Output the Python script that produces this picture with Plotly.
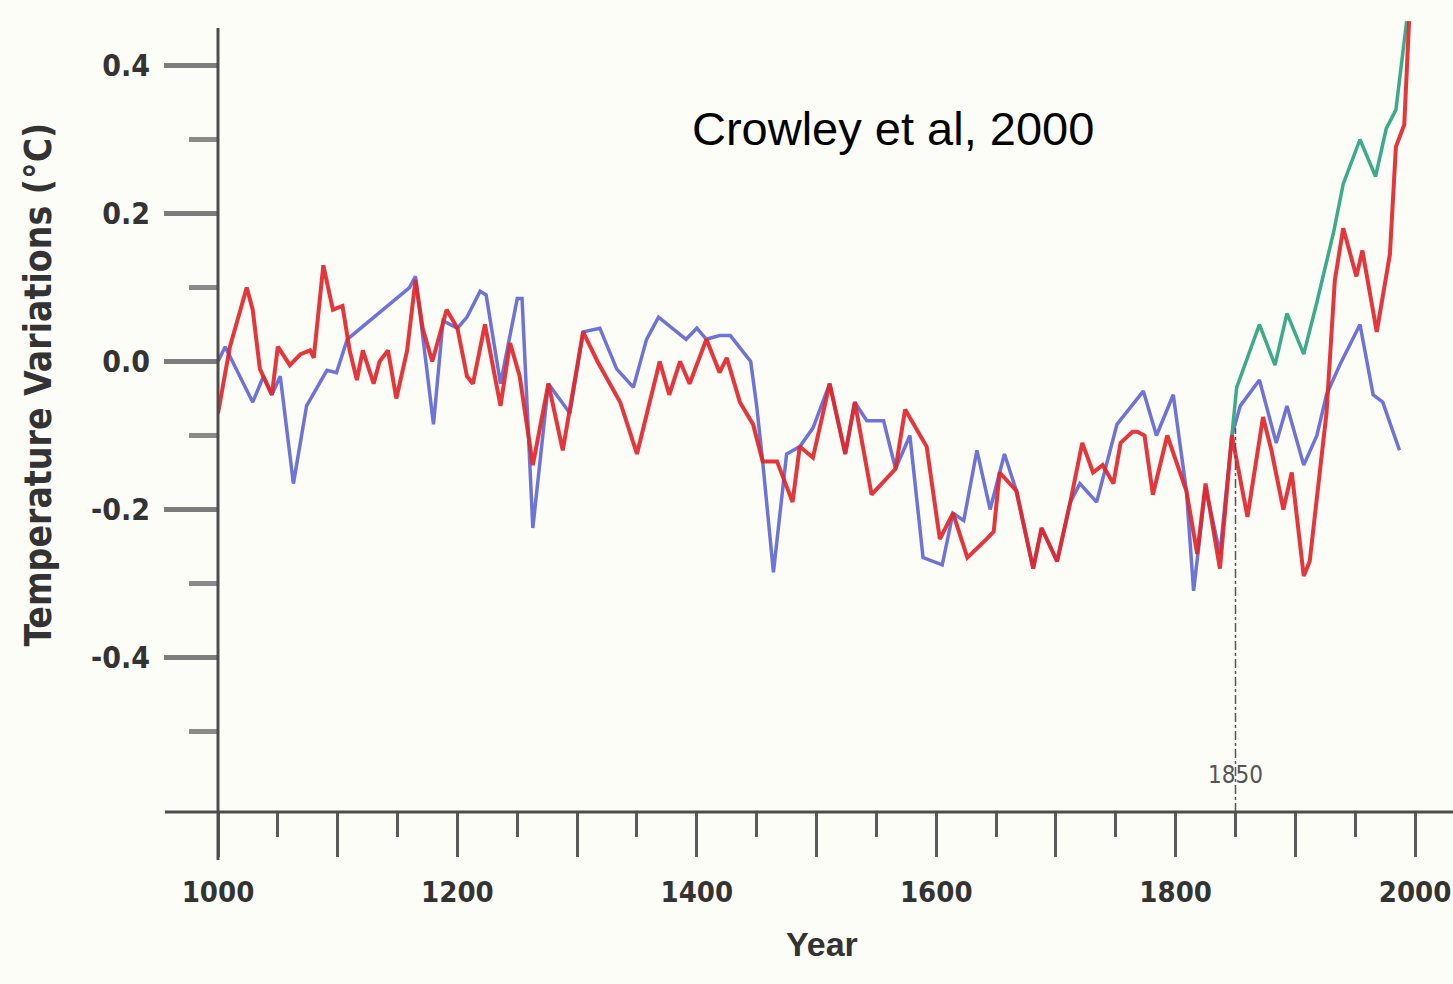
import plotly.graph_objects as go

# Reconstructed temperature variations, years 1000-2000 (degrees C)
red_years = [1000, 1010, 1024, 1029, 1035, 1045, 1050, 1060, 1069, 1077, 1080, 1088, 1096, 1104,
             1110, 1116, 1121, 1130, 1135, 1142, 1149, 1158, 1165, 1171, 1179, 1191, 1200, 1208,
             1213, 1223, 1236, 1244, 1252, 1263, 1276, 1288, 1305, 1317, 1336, 1350, 1369, 1377,
             1386, 1394, 1408, 1419, 1425, 1436, 1447, 1455, 1467, 1480, 1486, 1497, 1511, 1524,
             1532, 1546, 1566, 1574, 1592, 1603, 1614, 1626, 1642, 1648, 1653, 1667, 1681, 1688,
             1701, 1712, 1722, 1731, 1739, 1748, 1754, 1764, 1768, 1774, 1781, 1793, 1809, 1818,
             1825, 1837, 1847, 1853, 1860, 1873, 1880, 1890, 1897, 1907, 1912, 1926, 1933, 1940,
             1951, 1956, 1968, 1979, 1984, 1991, 1995]
red_vals = [-0.07, 0.02, 0.10, 0.07, -0.01, -0.045, 0.02, -0.005, 0.01, 0.015, 0.005, 0.13, 0.07, 0.075,
            0.015, -0.025, 0.015, -0.03, 0.0, 0.015, -0.05, 0.015, 0.11, 0.045, 0.0, 0.07, 0.045, -0.02,
            -0.03, 0.05, -0.06, 0.025, -0.02, -0.14, -0.03, -0.12, 0.04, 0.0, -0.055, -0.125, 0.0, -0.045,
            0.0, -0.03, 0.03, -0.015, 0.005, -0.055, -0.085, -0.135, -0.135, -0.19, -0.115, -0.13, -0.03, -0.125,
            -0.055, -0.18, -0.145, -0.065, -0.115, -0.24, -0.205, -0.265, -0.24, -0.23, -0.15, -0.175, -0.28, -0.225,
            -0.27, -0.19, -0.11, -0.15, -0.14, -0.165, -0.11, -0.095, -0.095, -0.10, -0.18, -0.10, -0.175, -0.26,
            -0.165, -0.28, -0.10, -0.15, -0.21, -0.075, -0.12, -0.20, -0.15, -0.29, -0.27, -0.07, 0.11, 0.18,
            0.115, 0.15, 0.04, 0.145, 0.29, 0.32, 0.46]

blue_years = [1000, 1006, 1029, 1038, 1045, 1052, 1063, 1074, 1091, 1099, 1108, 1160, 1165, 1180,
              1188, 1200, 1208, 1219, 1224, 1236, 1250, 1254, 1263, 1276, 1294, 1305, 1319, 1333,
              1347, 1358, 1368, 1391, 1400, 1408, 1419, 1428, 1445, 1450, 1455, 1464, 1475, 1486,
              1497, 1511, 1524, 1532, 1542, 1556, 1566, 1578, 1589, 1605, 1614, 1623, 1634, 1645,
              1653, 1657, 1667, 1681, 1688, 1701, 1712, 1720, 1734, 1739, 1751, 1773, 1784, 1798,
              1809, 1815, 1825, 1837, 1847, 1854, 1870, 1884, 1893, 1907, 1918, 1926, 1937, 1954,
              1965, 1973, 1987]
blue_vals = [0.0, 0.02, -0.055, -0.02, -0.045, -0.02, -0.165, -0.06, -0.012, -0.015, 0.03, 0.10, 0.115, -0.085,
             0.055, 0.045, 0.06, 0.095, 0.09, -0.03, 0.085, 0.085, -0.225, -0.03, -0.07, 0.04, 0.045, -0.01,
             -0.035, 0.03, 0.06, 0.03, 0.045, 0.03, 0.035, 0.035, 0.0, -0.06, -0.135, -0.285, -0.125, -0.115,
             -0.09, -0.03, -0.125, -0.055, -0.08, -0.08, -0.145, -0.10, -0.265, -0.275, -0.205, -0.215, -0.12, -0.20,
             -0.15, -0.125, -0.175, -0.28, -0.225, -0.27, -0.19, -0.165, -0.19, -0.16, -0.085, -0.04, -0.10, -0.045,
             -0.175, -0.31, -0.17, -0.26, -0.10, -0.06, -0.025, -0.11, -0.06, -0.14, -0.10, -0.045, -0.005, 0.05,
             -0.045, -0.055, -0.12]

green_years = [1847, 1851, 1870, 1883, 1893, 1907, 1918, 1932, 1940, 1954, 1967, 1976, 1984, 1993]
green_vals = [-0.10, -0.035, 0.05, -0.005, 0.065, 0.01, 0.08, 0.175, 0.24, 0.30, 0.25, 0.315, 0.34, 0.46]

y_major = [-0.4, -0.2, 0.0, 0.2, 0.4]
y_major_text = ["-0.4", "-0.2", "0.0", "0.2", "0.4"]
y_minor = [-0.5, -0.3, -0.1, 0.1, 0.3]
x_major = list(range(1000, 2001, 100))
x_major_text = [str(v) if v % 200 == 0 else "" for v in x_major]

X_MIN, X_MAX = 1000, 2031.7
Y_MIN, Y_MAX = -0.6088, 0.475

BG = "#fdfdf8"
NARROW = "DejaVu Sans Condensed, Liberation Sans Narrow, Arial Narrow, Liberation Sans, Arial"
TICK_FONT = dict(family=NARROW, size=30, color="#333333", weight="bold")

fig = go.Figure()
fig.add_trace(go.Scatter(x=blue_years, y=blue_vals, mode="lines",
                         line=dict(color="#6e73d8", width=3.5), showlegend=False))
fig.add_trace(go.Scatter(x=green_years, y=green_vals, mode="lines",
                         line=dict(color="#3daa8a", width=3.5), showlegend=False))
fig.add_trace(go.Scatter(x=red_years, y=red_vals, mode="lines", opacity=0.92,
                         line=dict(color="#e3262b", width=4), showlegend=False))

fig.update_layout(
    width=1453, height=984,
    margin=dict(l=218, r=0, t=10, b=172),
    paper_bgcolor=BG, plot_bgcolor=BG,
    xaxis=dict(range=[X_MIN, X_MAX], showgrid=False, zeroline=False, showline=False,
               tickmode="array", tickvals=x_major, ticktext=x_major_text,
               ticks="outside", ticklen=44, tickwidth=3, tickcolor="#5a5a5a",
               ticklabelstandoff=10,
               tickfont=dict(TICK_FONT, size=29),
               minor=dict(dtick=50, tick0=1000, ticks="outside", ticklen=24,
                          tickwidth=3, tickcolor="#5a5a5a")),
    yaxis=dict(range=[Y_MIN, Y_MAX], showgrid=False, zeroline=False, showline=False,
               tickmode="array", tickvals=y_major, ticktext=y_major_text,
               ticks="outside", ticklen=53, tickwidth=5, tickcolor="#7c7c7c",
               ticklabelstandoff=8, tickfont=TICK_FONT,
               minor=dict(tickmode="array", tickvals=y_minor, ticks="outside", ticklen=28,
                          tickwidth=5, tickcolor="#8a8a8a")),
)

# Axis lines: vertical axis at year 1000, horizontal axis extending past it
fig.add_shape(type="line", xref="paper", yref="paper", x0=0, x1=0,
              y0=-0.06, y1=(0.4507 - Y_MIN) / (Y_MAX - Y_MIN),
              line=dict(color="#4d4d4d", width=3))
fig.add_shape(type="line", xref="paper", yref="paper", x0=-0.043, x1=1.0, y0=0, y1=0,
              line=dict(color="#4d4d4d", width=3))
# Marker at 1850
fig.add_shape(type="line", xref="x", yref="y", x0=1850, x1=1850, y0=Y_MIN, y1=-0.09,
              line=dict(color="#555555", width=1.5, dash="dashdot"))

fig.add_annotation(x=1850, y=-0.559, xref="x", yref="y", text="1850", showarrow=False,
                   font=dict(family=NARROW, size=24, color="#555555"))
fig.add_annotation(x=1564, y=0.3155, xref="x", yref="y", text="Crowley et al, 2000",
                   showarrow=False, xanchor="center", yanchor="middle",
                   font=dict(family="Liberation Sans, Arial", size=47, color="#000000"))
fig.add_annotation(x=(822 - 218) / 1235, y=(812 - 965) / 802, xref="paper", yref="paper",
                   text="<b>Year</b>", showarrow=False,
                   font=dict(family="Liberation Sans, Arial", size=34, color="#333333"))
fig.add_annotation(x=(14 - 218) / 1235, y=(812 - 385) / 802, xref="paper", yref="paper",
                   text="<b>Temperature Variations (°C)</b>", showarrow=False, textangle=-90,
                   font=dict(family=NARROW, size=37, color="#333333"))

fig.write_html("out.html")
